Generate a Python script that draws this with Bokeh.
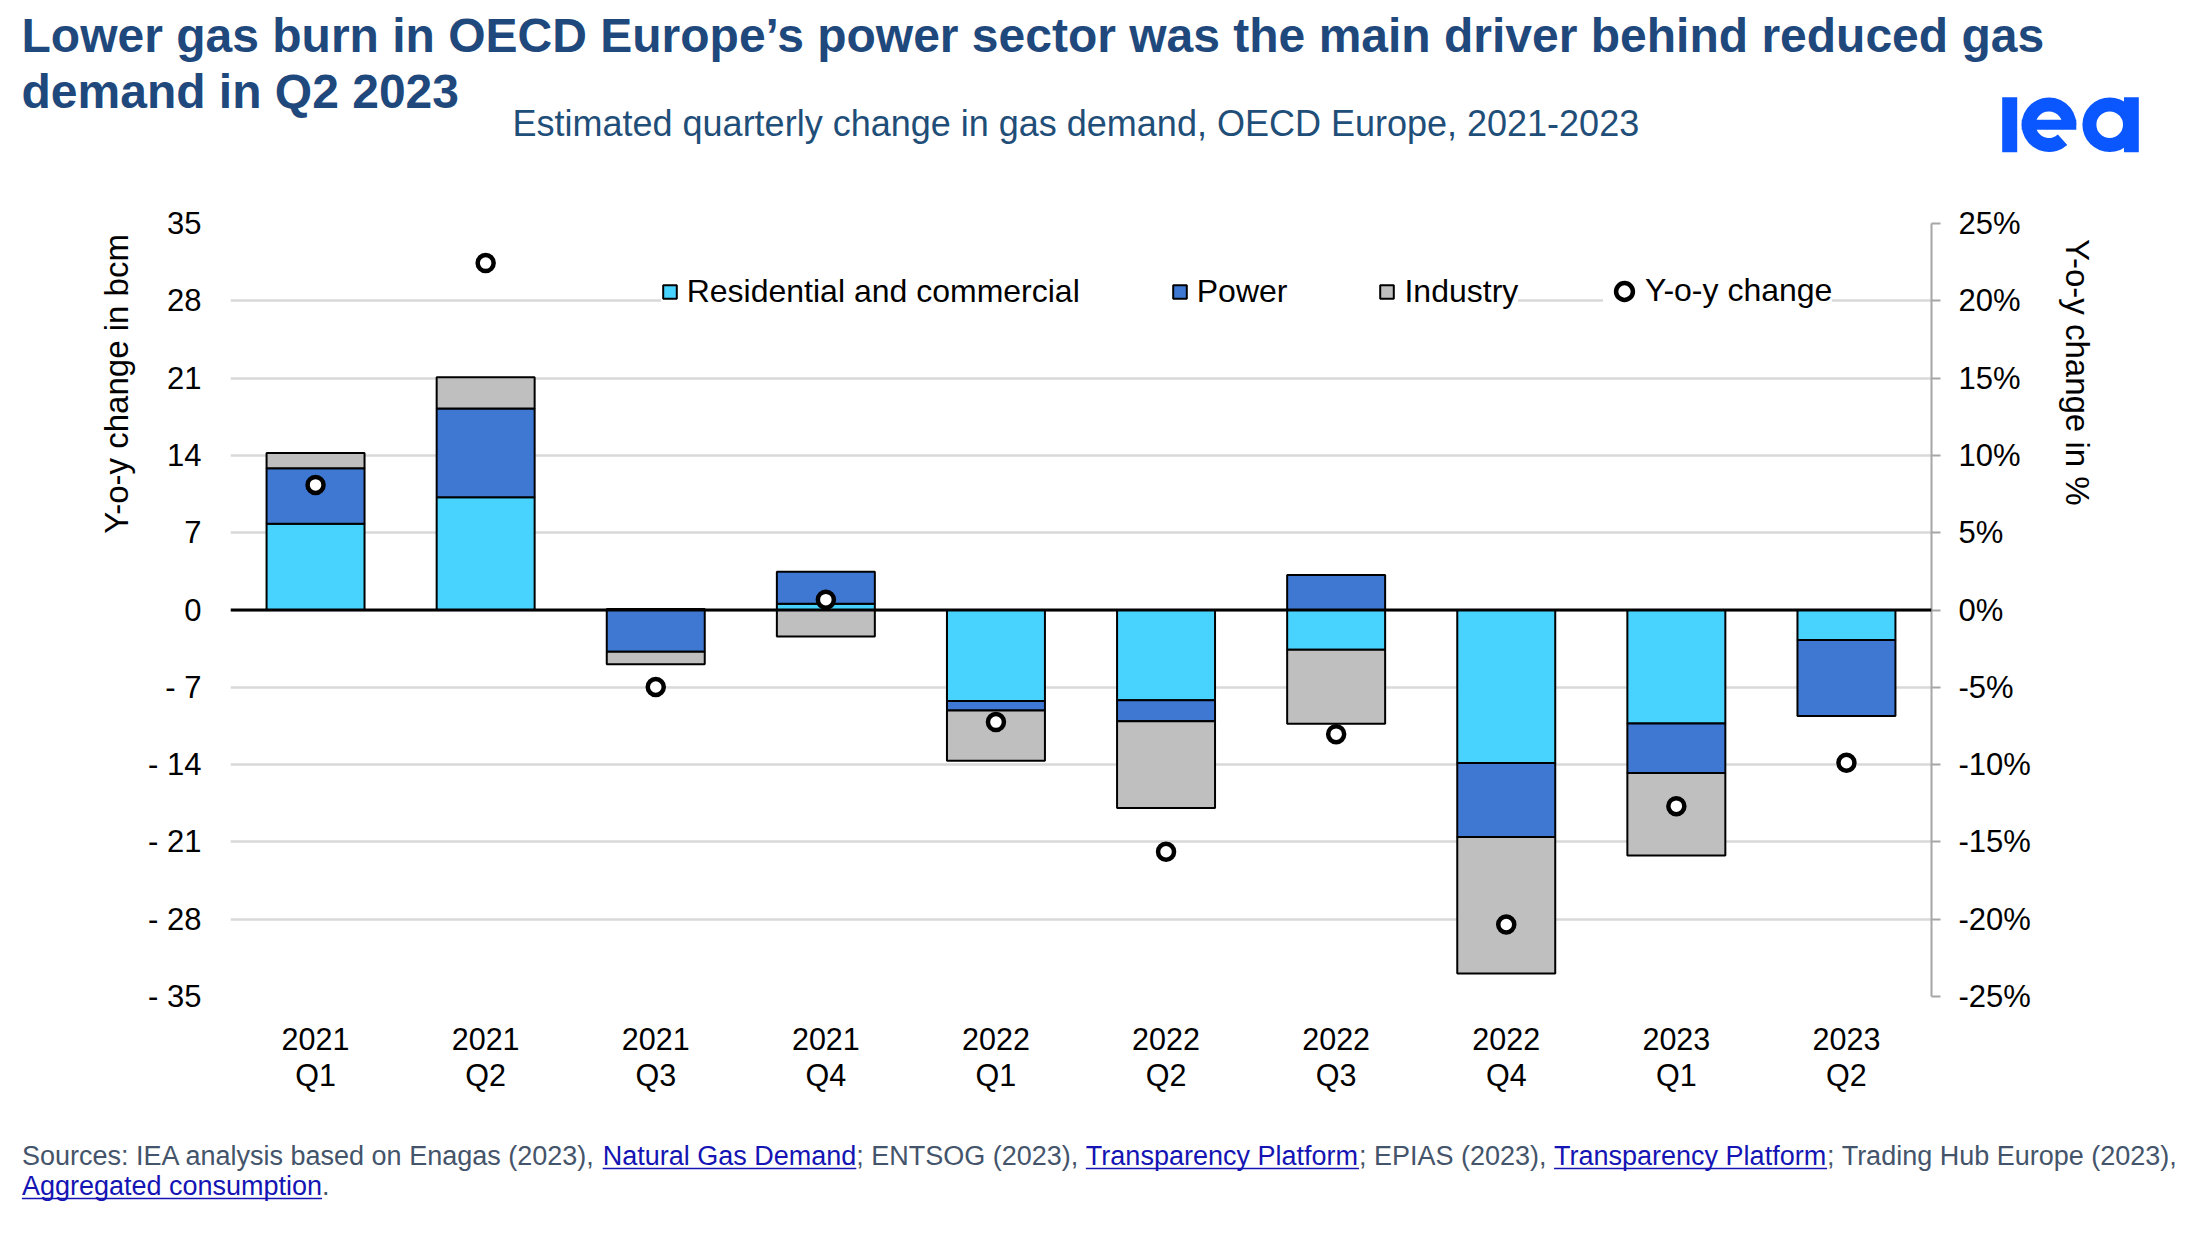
import math
from bokeh.plotting import figure
from bokeh.layouts import column, row
from bokeh.models import (FactorRange, Range1d, LinearAxis, CategoricalAxis, FixedTicker, Span,
                          Legend, LegendItem, ColumnDataSource, CustomJSTickFormatter)
from bokeh.core.properties import value
from bokeh.embed import file_html
from bokeh.resources import INLINE

# ---------------- data ----------------
quarters = ["2021 Q1", "2021 Q2", "2021 Q3", "2021 Q4", "2022 Q1",
            "2022 Q2", "2022 Q3", "2022 Q4", "2023 Q1", "2023 Q2"]
residential = [7.80, 10.22, 0.10, 0.57, -8.23, -8.17, -3.60, -13.86, -10.27, -2.71]
power = [5.04, 8.02, -3.77, 2.89, -0.88, -1.90, 3.16, -6.69, -4.49, -6.90]
industry = [1.38, 2.83, -1.14, -2.41, -4.55, -7.87, -6.70, -12.36, -7.47, 0.0]
yoy_pct = [8.09, 22.44, -4.98, 0.67, -7.25, -15.64, -8.03, -20.34, -12.69, -9.88]
bcm_ticks = [-35, -28, -21, -14, -7, 0, 7, 14, 21, 28, 35]
pct_ticks = [-25, -20, -15, -10, -5, 0, 5, 10, 15, 20, 25]
series_names = ["Residential and commercial", "Power", "Industry"]
series_colors = ["#48D2FE", "#3E78D3", "#BFBFBF"]

title_lines = ["Lower gas burn in OECD Europe\u2019s power sector was the main driver behind reduced gas",
               "demand in Q2 2023"]
subtitle = "Estimated quarterly change in gas demand, OECD Europe, 2021-2023"
left_title = "Y-o-y change in bcm"
right_title = "Y-o-y change in %"
src_lines = [
    [("Sources: IEA analysis based on Enagas (2023), ", False), ("Natural Gas Demand", True),
     ("; ENTSOG (2023), ", False), ("Transparency Platform", True),
     ("; EPIAS (2023), ", False), ("Transparency Platform", True),
     ("; Trading Hub Europe (2023),", False)],
    [("Aggregated consumption", True), (".", False)],
]

FONT = "Liberation Sans"
TITLE_COLOR = "#1F497D"
SUB_COLOR = "#1F4E79"
SRC_COLOR = "#44546A"
LINK_COLOR = "#1414B4"
LOGO_COLOR = "#0B57FF"

# ---------------- layout sizes ----------------
W = 2190
HEAD_H = 190
FRAME_W = 1701
FRAME_H = 773
MB_LEFT = 90
MB_TOP = 33
MB_BOTTOM = 124
MAIN_H = MB_TOP + FRAME_H + MB_BOTTOM
FOOT_H = 110
LEFT_W = 140
RIGHT_W = 150
MAIN_W = W - LEFT_W - RIGHT_W
MB_RIGHT = MAIN_W - MB_LEFT - FRAME_W
BASE_SHIFT = 0.36  # em offset of the rendered alphabetic baseline


def strip(w, h):
    f = figure(width=w, height=h, x_range=Range1d(0, w), y_range=Range1d(h, 0),
               x_axis_type=None, y_axis_type=None, output_backend="svg",
               toolbar_location=None, min_border=0)
    f.title.visible = False
    f.outline_line_color = None
    f.background_fill_color = "white"
    f.border_fill_color = "white"
    return f


def put(f, txt, x, y, size, color="black", style="normal", angle=0.0, align="left",
        baseline="alphabetic"):
    if baseline == "alphabetic":
        y = y - BASE_SHIFT * size
    f.text(x=[x], y=[y], text=[txt], text_font=value(FONT), text_font_size=value(f"{size}px"),
           text_color=color, text_font_style=style, angle=angle, text_align=align,
           text_baseline=baseline)


def style_cat_axis(ax, standoff, part):
    ax.formatter = CustomJSTickFormatter(code=f"return String(tick).split(' ')[{part}];")
    ax.axis_line_color = None
    ax.major_tick_line_color = None
    ax.major_tick_in = 0
    ax.major_tick_out = 0
    ax.minor_tick_line_color = None
    ax.major_label_standoff = standoff
    ax.major_label_text_font = FONT
    ax.major_label_text_font_size = "30.5px"
    ax.major_label_text_color = "black"


# ---------------- stacking (positive / negative separately) ----------------
n = len(quarters)
pos = [0.0] * n
neg = [0.0] * n
stack_data = []
for vals in (residential, power, industry):
    bots, tops = [], []
    for i, v in enumerate(vals):
        if v >= 0:
            b = pos[i]; t = b + v; pos[i] = t
        else:
            b = neg[i]; t = b + v; neg[i] = t
        bots.append(b); tops.append(t)
    stack_data.append((bots, tops))

# ---------------- main chart ----------------
xr = FactorRange(*quarters)
p = figure(width=MAIN_W, height=MAIN_H, x_range=xr, y_range=Range1d(-35, 35),
           output_backend="svg", toolbar_location=None,
           min_border_left=MB_LEFT, min_border_right=MB_RIGHT,
           min_border_top=MB_TOP, min_border_bottom=MB_BOTTOM)
p.title.visible = False
p.outline_line_color = None
p.background_fill_color = "white"
p.border_fill_color = "white"

p.xgrid.grid_line_color = None
p.ygrid.grid_line_color = "#D9D9D9"
p.ygrid.grid_line_width = 2.5
p.ygrid.ticker = FixedTicker(ticks=bcm_ticks)

ya = p.yaxis[0]
ya.ticker = FixedTicker(ticks=bcm_ticks)
ya.major_label_overrides = {t: (str(t) if t >= 0 else "- " + str(-t)) for t in bcm_ticks}
ya.axis_line_color = None
ya.major_tick_line_color = None
ya.major_tick_in = 0
ya.major_tick_out = 0
ya.minor_tick_line_color = None
ya.major_label_standoff = 29
ya.major_label_text_font = FONT
ya.major_label_text_font_size = "31px"
ya.major_label_text_color = "black"

# category labels on two lines: year (first axis) and quarter (second axis below it)
style_cat_axis(p.xaxis[0], 31, 0)
qaxis = CategoricalAxis()
style_cat_axis(qaxis, 5, 1)
p.add_layout(qaxis, "below")

p.extra_y_ranges = {"pct": Range1d(-25, 25)}
ra = LinearAxis(y_range_name="pct", ticker=FixedTicker(ticks=pct_ticks))
ra.major_label_overrides = {t: f"{t}%" for t in pct_ticks}
ra.axis_line_color = "#A6A6A6"
ra.axis_line_width = 2
ra.major_tick_line_color = "#A6A6A6"
ra.major_tick_line_width = 2
ra.major_tick_in = 0
ra.major_tick_out = 9
ra.minor_tick_line_color = None
ra.major_label_standoff = 18
ra.major_label_text_font = FONT
ra.major_label_text_font_size = "31px"
ra.major_label_text_color = "black"
p.add_layout(ra, "right")

bar_renderers = []
for (bots, tops), name, col in zip(stack_data, series_names, series_colors):
    src = ColumnDataSource(dict(x=quarters, bottom=bots, top=tops))
    r = p.vbar(x="x", bottom="bottom", top="top", width=0.576, source=src,
               fill_color=col, line_color="black", line_width=2)
    bar_renderers.append(r)

p.add_layout(Span(location=0, dimension="width", line_color="black", line_width=3))

csrc = ColumnDataSource(dict(x=quarters, y=yoy_pct))
cr = p.scatter(x="x", y="y", source=csrc, y_range_name="pct", marker="circle", size=16,
               fill_color="white", line_color="black", line_width=4.5)

leg1 = Legend(items=[LegendItem(label=nm, renderers=[r]) for nm, r in zip(series_names, bar_renderers)],
              orientation="horizontal", location=(430.7, 685.6),
              glyph_width=17, glyph_height=17, label_standoff=9, spacing=91,
              padding=0, margin=0, border_line_color=None,
              background_fill_color="white", background_fill_alpha=1.0,
              label_text_font=FONT, label_text_font_size="32px", label_text_color="black")
leg2 = Legend(items=[LegendItem(label="Y-o-y change", renderers=[cr])],
              orientation="horizontal", location=(1373, 684.5),
              glyph_width=42, glyph_height=42, label_standoff=0,
              padding=0, margin=0, border_line_color=None,
              background_fill_color="white", background_fill_alpha=1.0,
              label_text_font=FONT, label_text_font_size="32px", label_text_color="black")
p.add_layout(leg1, "center")
p.add_layout(leg2, "center")

# ---------------- header ----------------
head = strip(W, HEAD_H)
put(head, title_lines[0], 21, 52, 48, TITLE_COLOR, "bold")
put(head, title_lines[1], 21, 108, 48, TITLE_COLOR, "bold")
put(head, subtitle, 512, 135.7, 36, SUB_COLOR)
# IEA logo drawn with shapes
head.quad(left=[2001.7], right=[2016.7], top=[96.7], bottom=[151.7], fill_color=LOGO_COLOR,
          line_color=None)
head.annular_wedge(x=[2048.5], y=[124.2], inner_radius=13.3, outer_radius=27.3,
                   start_angle=0.0, end_angle=math.radians(312), fill_color=LOGO_COLOR,
                   line_color=None)
head.quad(left=[2021.2], right=[2075.8], top=[119.2], bottom=[129.2], fill_color=LOGO_COLOR,
          line_color=None)
head.annulus(x=[2109.2], y=[124.2], inner_radius=13.3, outer_radius=27.3,
             fill_color=LOGO_COLOR, line_color=None)
head.quad(left=[2123.5], right=[2138.3], top=[96.7], bottom=[151.7], fill_color=LOGO_COLOR,
          line_color=None)

# ---------------- side strips ----------------
SIDE_H = MAIN_H
left = strip(LEFT_W, SIDE_H)
put(left, left_title, 116, 383 - HEAD_H, 33, angle=math.pi / 2, align="center", baseline="middle")
right = strip(RIGHT_W, SIDE_H)
put(right, right_title, 2077 - (LEFT_W + MAIN_W), 369 - HEAD_H, 33, angle=-math.pi / 2,
    align="center", baseline="middle")

# ---------------- footer (sources) ----------------
HW = {' ': 278, '(': 333, ')': 333, ',': 278, '-': 333, '.': 278, ';': 278, ':': 278,
      'A': 667, 'B': 667, 'C': 722, 'D': 722, 'E': 667, 'F': 611, 'G': 778, 'H': 722,
      'I': 278, 'J': 500, 'K': 667, 'L': 556, 'M': 833, 'N': 722, 'O': 778, 'P': 667,
      'Q': 778, 'R': 722, 'S': 667, 'T': 611, 'U': 722, 'V': 667, 'W': 944, 'X': 667,
      'Y': 667, 'Z': 611,
      'a': 556, 'b': 556, 'c': 500, 'd': 556, 'e': 556, 'f': 278, 'g': 556, 'h': 556,
      'i': 222, 'j': 222, 'k': 500, 'l': 222, 'm': 833, 'n': 556, 'o': 556, 'p': 556,
      'q': 556, 'r': 333, 's': 500, 't': 278, 'u': 556, 'v': 500, 'w': 722, 'x': 500,
      'y': 500, 'z': 500}
for d in "0123456789":
    HW[d] = 556


def tw(s, size):
    return sum(HW.get(ch, 556) for ch in s) * size / 1000.0


foot = strip(W, FOOT_H)
SRC_SIZE = 27
FOOT_TOP = HEAD_H + SIDE_H
for segs, base in zip(src_lines, [1165, 1195]):
    cx = 21.4
    y = base - FOOT_TOP
    for txt, link in segs:
        put(foot, txt, cx, y, SRC_SIZE, LINK_COLOR if link else SRC_COLOR)
        w = tw(txt, SRC_SIZE)
        if link:
            foot.segment(x0=[cx], y0=[y + 3], x1=[cx + w], y1=[y + 3],
                         line_color=LINK_COLOR, line_width=1.6)
        cx += w

layout = column(head, row(left, p, right), foot)
open("out.html", "w").write(file_html(layout, INLINE))
